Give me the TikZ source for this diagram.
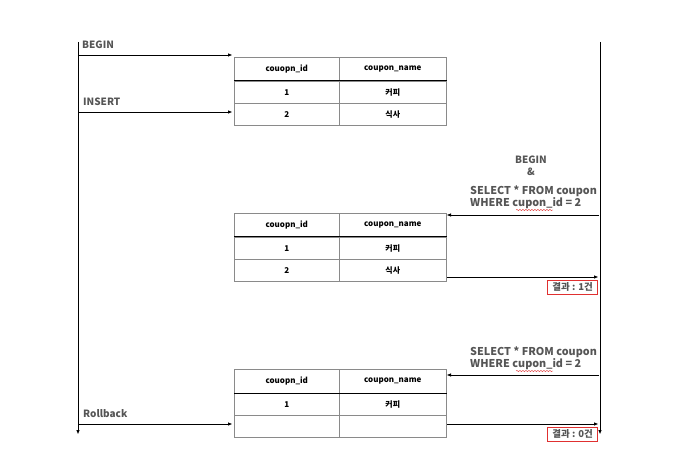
\documentclass[tikz,border=0pt]{standalone}
\usepackage{fontspec}
\setmainfont{Noto Sans CJK KR}
\usetikzlibrary{arrows.meta,decorations.pathmorphing}
\definecolor{lbl}{HTML}{555555}
\definecolor{grid}{HTML}{8A8A8A}
\definecolor{res}{HTML}{E03030}
\tikzset{
  x=1pt,y=-1pt,
  cell/.style={draw=grid,line width=0.6pt,inner sep=0pt,font=\bfseries\fontsize{8}{9}\selectfont,text=black,anchor=north west},
  c1/.style={cell,minimum width=105pt},
  c2/.style={cell,minimum width=107pt},
  hh/.style={minimum height=24pt},
  rh/.style={minimum height=22pt},
  life/.style={line width=1pt,-{Triangle[length=4pt,width=3pt]}},
  msg/.style={line width=0.8pt,-{Triangle[length=4pt,width=3pt]}},
  lab/.style={text=lbl,font=\bfseries\fontsize{10}{11}\selectfont,inner sep=0pt},
  qry/.style={text=lbl,font=\bfseries\fontsize{10.8}{12.5}\selectfont,inner sep=0pt,align=left},
  result/.style={draw=res,line width=0.8pt,text=lbl,font=\bfseries\fontsize{9.5}{10}\selectfont,inner sep=1pt,minimum width=50pt,minimum height=14pt}
}
\newcommand{\coupontable}[4]{%
  \node[c1,hh] (#1h1) at (234,#2) {couopn\_id};
  \node[c2,hh] (#1h2) at (339,#2) {coupon\_name};
  \node[c1,rh] (#1a1) at (234,#2+24) {1};
  \node[c2,rh] (#1a2) at (339,#2+24) {커피};
  \node[c1,rh] (#1b1) at (234,#2+46) {#3};
  \node[c2,rh] (#1b2) at (339,#2+46) {#4};
  \draw[line width=1pt,black] (#1a1.north west) -- (#1a2.north east);
}
\begin{document}
\begin{tikzpicture}
\useasboundingbox (0,0) rectangle (680,473);
% lifelines
\coordinate (L0) at (78,42);
\coordinate (L1) at (78,434);
\coordinate (R0) at (600,42);
\coordinate (R1) at (600,434);
\draw[life] (L0) -- (L1);
\draw[life] (R0) -- (R1);

% tables
\coupontable{t}{57}{2}{식사}
\coupontable{u}{213}{2}{식사}
\coupontable{v}{369}{}{}

% left messages
\coordinate (a1s) at (79,55);  \coordinate (a1e) at (232,55);
\coordinate (a2s) at (79,112); \coordinate (a2e) at (232,112);
\coordinate (a3s) at (79,424); \coordinate (a3e) at (232,424);
\draw[msg] (a1s) -- (a1e);
\draw[msg] (a2s) -- (a2e);
\draw[msg] (a3s) -- (a3e);
\node[lab,anchor=base west] (begin1) at (82,49) {BEGIN};
\node[lab,anchor=base west] (insert) at (83,106) {INSERT};
\node[lab,anchor=base west] (rollback) at (83,417) {Rollback};

% right messages
\coordinate (b1s) at (599,215); \coordinate (b1e) at (447,215);
\coordinate (b2s) at (447,277); \coordinate (b2e) at (598,277);
\coordinate (b3s) at (599,375); \coordinate (b3e) at (447,375);
\coordinate (b4s) at (447,424); \coordinate (b4e) at (598,424);
\draw[msg] (b1s) -- (b1e);
\draw[msg] (b2s) -- (b2e);
\draw[msg] (b3s) -- (b3e);
\draw[msg] (b4s) -- (b4e);

\node[lab,anchor=base] (begin2) at (531,164) {BEGIN};
\node[lab,anchor=base] (amp) at (531,176) {\&};
\node[qry,anchor=south west] (q1) at (470,209) {SELECT * FROM coupon\\WHERE cupon\_id = 2};
\node[qry,anchor=south west] (q2) at (470,370) {SELECT * FROM coupon\\WHERE cupon\_id = 2};
\draw[res,line width=0.4pt,decorate,decoration={snake,amplitude=0.6pt,segment length=3pt}] (516,210) -- (553,210);
\draw[res,line width=0.4pt,decorate,decoration={snake,amplitude=0.6pt,segment length=3pt}] (516,371) -- (553,371);

\node[result,anchor=north east] (r1) at (598,280) {결과 : 1건};
\node[result,anchor=north east] (r2) at (598,427) {결과 : 0건};
\end{tikzpicture}
\end{document}
